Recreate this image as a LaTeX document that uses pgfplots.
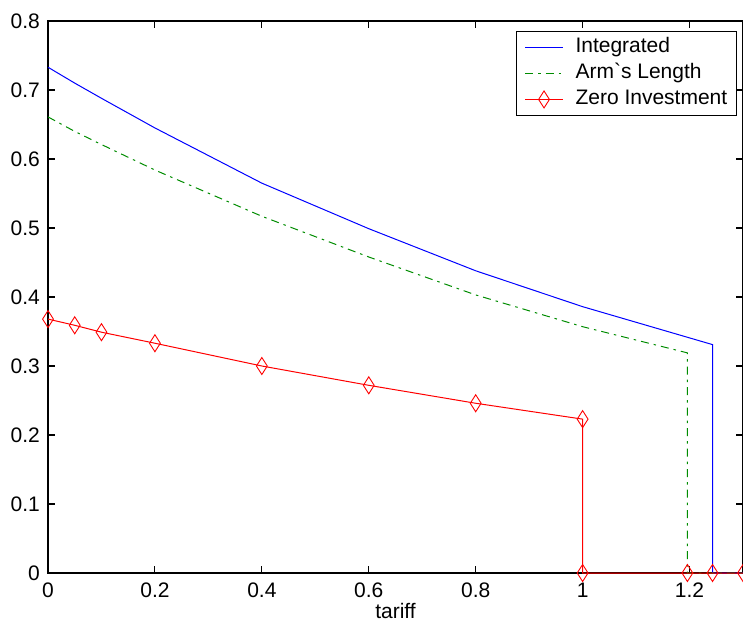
\documentclass[border=0pt]{standalone}
\usepackage{fontspec}
\setmainfont{Liberation Sans}
\usepackage{pgfplots}
\pgfplotsset{compat=1.18}

\begin{document}
\begin{tikzpicture}
\begin{axis}[
  at={(0pt,0pt)}, anchor=south west,
  scale only axis,
  width=695pt, height=552pt,
  xmin=0, xmax=1.3, ymin=0, ymax=0.8,
  xtick={0,0.2,0.4,0.6,0.8,1,1.2},
  ytick={0,0.1,0.2,0.3,0.4,0.5,0.6,0.7,0.8},
  tick align=inside,
  major tick length=7pt,
  axis line style={line width=1.3pt},
  every tick/.style={black, line width=1.1pt},
  /pgf/number format/assume math mode=true,
  /pgf/number format/.cd, fixed, precision=1, /pgfplots/.cd,
  tick label style={font=\fontsize{21}{25}\selectfont, inner sep=0pt},
  x tick label style={anchor=north, yshift=-10pt},
  y tick label style={anchor=east, xshift=-8pt},
  xlabel={tariff},
  xlabel style={font=\fontsize{21}{25}\selectfont, at={(axis description cs:0.5,0)},
                anchor=north, yshift=-30pt, inner sep=0pt},
  legend style={at={(0.991,0.982)}, anchor=north east, draw=black, line width=1pt,
                font=\fontsize{21}{25}\selectfont, inner xsep=8pt, inner ysep=5.5pt,
                row sep=5pt, column sep=11pt,
                nodes={inner sep=1pt, text height=15pt, text depth=4pt}},
  legend cell align=left,
  legend image code/.code={\draw[mark repeat=2, mark phase=2, #1]
      plot coordinates {(0pt,0pt) (19pt,0pt) (38pt,0pt)};},
]
\addplot[blue, line width=1pt] coordinates {
  (0,0.733) (0.05,0.710) (0.1,0.688) (0.2,0.645) (0.4,0.565) (0.6,0.499)
  (0.8,0.438) (1.0,0.386) (1.243,0.331) (1.243,0) (1.3,0)
};
\addlegendentry{Integrated}
\addplot[color={rgb,255:red,0;green,140;blue,0}, line width=1pt,
         dash pattern=on 8pt off 5pt on 2.5pt off 5pt] coordinates {
  (0,0.661) (0.05,0.640) (0.1,0.621) (0.2,0.584) (0.4,0.517) (0.6,0.458)
  (0.8,0.403) (1.0,0.357) (1.196,0.319) (1.196,0) (1.3,0)
};
\addlegendentry{Arm\textasciigrave s Length}
\addplot[red, line width=1pt, mark=diamond, mark size=8.5pt,
         mark options={solid, xscale=0.85, line width=0.9pt}] coordinates {
  (0,0.368) (0.05,0.359) (0.1,0.349) (0.2,0.333) (0.4,0.300) (0.6,0.272)
  (0.8,0.246) (1.0,0.223) (1.0,0) (1.196,0) (1.243,0) (1.3,0)
};
\addlegendentry{Zero Investment}
\end{axis}
\pgfresetboundingbox
\path (-48pt,-53pt) rectangle (695pt,573pt);
\end{tikzpicture}
\end{document}
